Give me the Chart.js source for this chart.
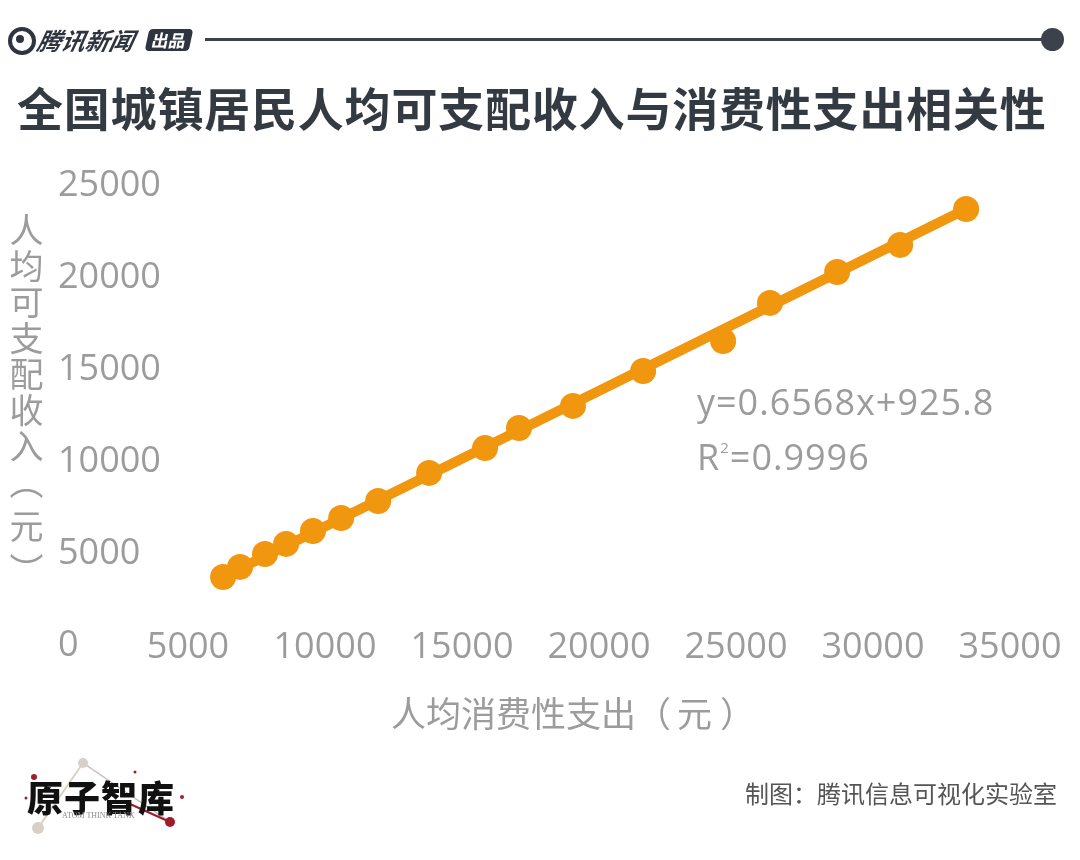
<!DOCTYPE html>
<html>
<head>
<meta charset="utf-8">
<script src="https://cdn.jsdelivr.net/npm/chart.js@4.4.0/dist/chart.umd.min.js"></script>
<style>
  body { margin: 0; background: #fff; font-family: "Noto Sans CJK SC", "Open Sans", sans-serif; }
  #page { position: relative; width: 1080px; height: 860px; overflow: hidden; background: #fff; }
  #scatterChart { position: absolute; left: 0; top: 0; }
  .abs { position: absolute; white-space: nowrap; line-height: 1; }
  .gray { color: #9c9c9c; }
</style>
</head>
<body>
<div id="page">
  <canvas id="scatterChart" width="1080" height="860"></canvas>

  <!-- header -->
  <div class="abs" style="left:8px;top:27px;width:20px;height:20px;border:4px solid #2f3540;border-radius:50%;"></div>
  <div class="abs" style="left:16px;top:35px;width:8px;height:8px;background:#2f3540;border-radius:50%;"></div>
  <div class="abs" style="left:38px;top:28px;font-size:24px;font-weight:700;font-style:italic;color:#2f3540;transform:skewX(-12deg);">腾讯新闻</div>
  <div class="abs" style="left:147px;top:29px;width:44px;height:22px;background:#2f3540;border-radius:4px;color:#fff;font-size:17px;font-weight:700;text-align:center;line-height:22px;transform:skewX(-12deg);">出品</div>
  <div class="abs" style="left:205px;top:38px;width:840px;height:3px;background:#3c414c;"></div>
  <div class="abs" style="left:1041px;top:28px;width:23px;height:23px;background:#3c414c;border-radius:50%;"></div>

  <!-- title -->
  <div class="abs" style="left:17px;top:83px;font-size:46px;font-weight:700;color:#333a42;letter-spacing:0.8px;">全国城镇居民人均可支配收入与消费性支出相关性</div>

  <!-- axis titles -->
  <div class="abs gray" style="left:9px;top:213px;font-size:34px;writing-mode:vertical-rl;letter-spacing:2px;">人均可支配收入<span style="padding-bottom:8px;">（</span><span style="padding-bottom:8px;">元</span>）</div>
  <div class="abs gray" style="left:391px;top:694px;font-size:35px;">人均消费性支出<span style="padding-right:6px;">（</span><span style="padding-right:8px;">元</span>）</div>

  <!-- regression note -->
  <div class="abs gray" style="left:697px;top:384px;font-family:'Open Sans',sans-serif;font-size:36px;letter-spacing:1px;">y=0.6568x+925.8</div>
  <div class="abs gray" style="left:697px;top:439px;font-family:'Open Sans',sans-serif;font-size:36px;letter-spacing:1px;">R<span style="font-size:15px;vertical-align:17px;">2</span>=0.9996</div>

  <!-- footer -->
  <svg class="abs" style="left:20px;top:752px;" width="180" height="90">
    <line x1="63" y1="11" x2="18" y2="76" stroke="#d8d0c6" stroke-width="2"/>
    <line x1="63" y1="11" x2="150" y2="70" stroke="#c9b8b8" stroke-width="1.5"/>
    <line x1="110" y1="52" x2="150" y2="70" stroke="#a01c2a" stroke-width="2"/>
    <circle cx="63" cy="11" r="5" fill="#d8d0c6"/>
    <circle cx="18" cy="76" r="6" fill="#d8d0c6"/>
    <circle cx="150" cy="70" r="5" fill="#a01c2a"/>
    <circle cx="14" cy="25" r="3" fill="#a01c2a"/>
    <circle cx="115" cy="20" r="1.5" fill="#a01c2a"/>
    <circle cx="162" cy="45" r="2" fill="#a01c2a"/>
    <circle cx="6" cy="46" r="1.5" fill="#a01c2a"/>
  </svg>
  <div class="abs" style="left:27px;top:778px;font-size:36px;font-weight:900;color:#111;letter-spacing:1px;">原子智库</div>
  <div class="abs" style="left:62px;top:812px;font-family:'Liberation Serif',serif;font-size:8px;color:#8a8a8a;">ATOM THINK TANK</div>
  <div class="abs" style="left:745px;top:781px;font-size:24px;color:#555;">制图：腾讯信息可视化实验室</div>
</div>

<script>
// x: 人均消费性支出 axis, y: 人均可支配收入 axis
const pointX = [6280, 6900, 7810, 8580, 9560, 10590, 11940, 13800, 15840, 17080, 19050, 21610, 24530, 26240, 28690, 30990, 33400];
const pointY = [3720, 4270, 4970, 5520, 6220, 6930, 7850, 9380, 10730, 11820, 13020, 14920, 16550, 18620, 20300, 21770, 23720];

// trend line ends
const trendX = [6280, 33400];
const trendY = [3720, 23720];

const xTicks = [0, 5000, 10000, 15000, 20000, 25000, 30000, 35000];
const yTicks = [0, 5000, 10000, 15000, 20000, 25000];

const orange = '#F0970F';
const tickGray = '#9c9c9c';

const points = pointX.map((x, i) => ({ x, y: pointY[i] }));
const trend = trendX.map((x, i) => ({ x, y: trendY[i] }));

// keep the plot box where the picture has it: labels are drawn inside (mirror), axes take no room
const noRoom = (scale) => {
  if (scale.isHorizontal()) scale.height = 0; else scale.width = 0;
  scale.paddingLeft = scale.paddingRight = scale.paddingTop = scale.paddingBottom = 0;
};

new Chart(document.getElementById('scatterChart'), {
  type: 'scatter',
  data: {
    datasets: [
      {
        data: points,
        backgroundColor: orange,
        borderColor: orange,
        borderWidth: 0,
        pointRadius: 13,
      },
      {
        data: trend,
        showLine: true,
        borderColor: orange,
        borderWidth: 10,
        pointRadius: 0,
        borderCapStyle: 'round',
      },
    ],
  },
  options: {
    responsive: false,
    animation: false,
    layout: { padding: { left: 51, right: 70, top: 185.5, bottom: 214.5 } },
    plugins: { legend: { display: false }, tooltip: { enabled: false } },
    scales: {
      x: {
        type: 'linear',
        min: 0,
        max: 35000,
        afterBuildTicks: (axis) => { axis.ticks = xTicks.map(v => ({ value: v })); },
        afterFit: noRoom,
        grid: { display: false },
        border: { display: false },
        ticks: {
          color: tickGray,
          mirror: true,
          padding: -23.6,
          font: { family: 'Open Sans', size: 36 },
          callback: (v) => (v === 0 ? '' : String(v)),
        },
      },
      y: {
        type: 'linear',
        min: 0,
        max: 25000,
        afterBuildTicks: (axis) => { axis.ticks = yTicks.map(v => ({ value: v })); },
        afterFit: noRoom,
        grid: { display: false },
        border: { display: false },
        ticks: {
          color: tickGray,
          mirror: true,
          crossAlign: 'near',
          padding: 7,
          font: { family: 'Open Sans', size: 36 },
          callback: (v) => String(v),
        },
      },
    },
  },
});
</script>
</body>
</html>
